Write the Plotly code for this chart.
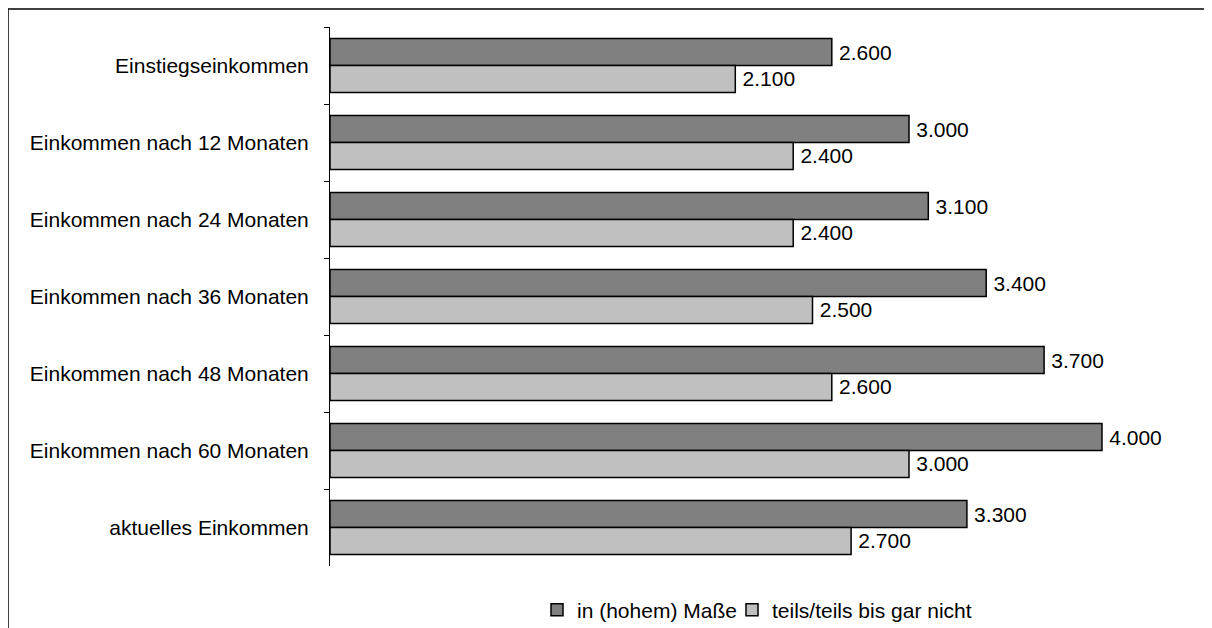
import plotly.graph_objects as go

categories = [
    "Einstiegseinkommen",
    "Einkommen nach 12 Monaten",
    "Einkommen nach 24 Monaten",
    "Einkommen nach 36 Monaten",
    "Einkommen nach 48 Monaten",
    "Einkommen nach 60 Monaten",
    "aktuelles Einkommen",
]
series_names = ["in (hohem) Maße", "teils/teils bis gar nicht"]
values_high = [2600, 3000, 3100, 3400, 3700, 4000, 3300]
values_low = [2100, 2400, 2400, 2500, 2600, 3000, 2700]
colors = ["#808080", "#C0C0C0"]

OFF = 8  # page body margin
W, H = 1212 - OFF, 628 - OFF
# plot area edges in screen pixels
SL, SR, ST, SB = 330, 1190, 27, 566
PL, PR, PT, PB = SL - OFF, SR - OFF, ST - OFF, SB - OFF
XMAX = (PR - PL) / 0.193

font = "Liberation Sans, Arial, sans-serif"

fig = go.Figure()
for name, vals, col, lg in zip(series_names, [values_high, values_low], colors,
                               ["legend", "legend2"]):
    fig.add_trace(go.Bar(
        y=categories, x=vals, name=name, orientation="h",
        marker=dict(color=col, line=dict(color="#000000", width=1.5)),
        texttemplate="\u2009%{x:,}", textposition="outside",
        textfont=dict(size=21, color="#000000", family=font),
        cliponaxis=False, legend=lg,
    ))

def px_x(s):
    return (s - OFF - PL) / (PR - PL)

def px_y(s):
    return (PB - (s - OFF)) / (PB - PT)

leg_common = dict(
    orientation="h", xanchor="left", yanchor="middle",
    font=dict(size=21, family=font), bgcolor="rgba(0,0,0,0)", borderwidth=0,
)

fig.update_layout(
    width=W, height=H,
    margin=dict(l=PL, r=W - PR, t=PT, b=H - PB, pad=0, autoexpand=False),
    paper_bgcolor="white", plot_bgcolor="white",
    separators=",.",
    barmode="group", bargap=0.3, bargroupgap=0,
    font=dict(family=font, size=21, color="#000000"),
    showlegend=True,
    legend=dict(x=px_x(537), y=px_y(610), **leg_common),
    legend2=dict(x=px_x(732), y=px_y(610), **leg_common),
    xaxis=dict(range=[0, XMAX], showgrid=False, zeroline=False, showline=False,
               showticklabels=False, ticks=""),
    yaxis=dict(range=[6.5, -0.5], type="category", showline=True, linecolor="#000000",
               linewidth=1, ticks="outside", ticklen=5, tickcolor="#000000",
               tickson="boundaries", showgrid=False, ticklabelstandoff=16,
               tickfont=dict(size=21, family=font)),
    shapes=[
        dict(type="line", xref="paper", yref="paper", x0=px_x(8), x1=px_x(1240),
             y0=px_y(9), y1=px_y(9), line=dict(color="#000000", width=1.5)),
        dict(type="line", xref="paper", yref="paper", x0=px_x(8), x1=px_x(8),
             y0=px_y(9), y1=px_y(660), line=dict(color="#000000", width=1.5)),
    ],
)

fig.write_html("out.html")
